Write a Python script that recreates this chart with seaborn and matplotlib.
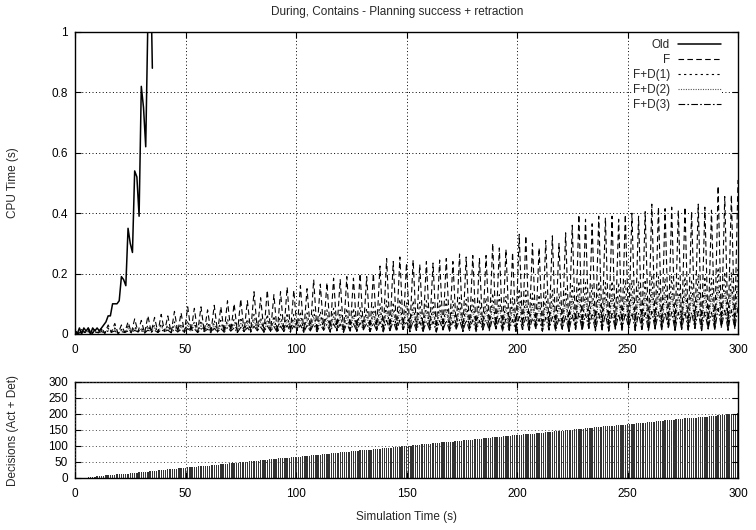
import numpy as np
import matplotlib
matplotlib.use("Agg")
import matplotlib.pyplot as plt
import seaborn as sns

# ---------------- data ----------------
old_t = list(range(0, 36))
old_v = [0.01, 0.0, 0.02, 0.0, 0.02, 0.01, 0.02, 0.0, 0.02, 0.01, 0.02, 0.01,
         0.02, 0.03, 0.04, 0.06, 0.06, 0.10, 0.10, 0.10, 0.11, 0.19, 0.18, 0.16,
         0.35, 0.30, 0.27, 0.54, 0.52, 0.39, 0.82, 0.75, 0.62, 1.05, 1.30, 0.88]

# peaks (t = 0, 3, ..., 300) of the oscillating series
f_peak = [0.01, 0.015, 0.02, 0.015, 0.02, 0.03, 0.035, 0.03, 0.04, 0.05, 0.045,
          0.06, 0.055, 0.065, 0.06, 0.075, 0.07, 0.09, 0.085, 0.09, 0.08,
          0.095, 0.09, 0.11, 0.10, 0.115, 0.11, 0.14, 0.12, 0.145, 0.13,
          0.14, 0.155, 0.145, 0.16, 0.15, 0.18, 0.165, 0.17, 0.185, 0.18,
          0.19, 0.185, 0.20, 0.19, 0.20, 0.225, 0.25, 0.24, 0.255, 0.235,
          0.245, 0.23, 0.24, 0.235, 0.245, 0.25, 0.24, 0.265, 0.255, 0.26,
          0.25, 0.26, 0.30, 0.285, 0.28, 0.27, 0.33, 0.325, 0.30, 0.285,
          0.31, 0.325, 0.30, 0.335, 0.36, 0.395, 0.38, 0.365, 0.39, 0.385,
          0.39, 0.38, 0.395, 0.40, 0.39, 0.405, 0.43, 0.42, 0.415, 0.42,
          0.41, 0.42, 0.405, 0.43, 0.42, 0.41, 0.49, 0.455, 0.46, 0.51]
d1_peak = [0.01, 0.01, 0.015, 0.01, 0.015, 0.02, 0.02, 0.015, 0.025, 0.025, 0.02,
           0.03, 0.03, 0.035, 0.03, 0.04, 0.035, 0.045, 0.04, 0.045, 0.04,
           0.045, 0.045, 0.05, 0.05, 0.055, 0.05, 0.065, 0.055, 0.065, 0.06,
           0.065, 0.07, 0.065, 0.075, 0.07, 0.08, 0.075, 0.08, 0.085, 0.08,
           0.085, 0.085, 0.09, 0.085, 0.09, 0.10, 0.11, 0.105, 0.115, 0.105,
           0.11, 0.105, 0.11, 0.105, 0.11, 0.115, 0.11, 0.12, 0.115, 0.12,
           0.115, 0.12, 0.135, 0.13, 0.125, 0.12, 0.15, 0.145, 0.135, 0.13,
           0.14, 0.145, 0.135, 0.15, 0.16, 0.175, 0.17, 0.165, 0.175, 0.17,
           0.175, 0.17, 0.18, 0.18, 0.175, 0.18, 0.195, 0.19, 0.185, 0.19,
           0.185, 0.19, 0.18, 0.195, 0.19, 0.185, 0.22, 0.205, 0.205, 0.225]
d2_peak = [0.008, 0.01, 0.012, 0.01, 0.012, 0.015, 0.015, 0.012, 0.018, 0.02, 0.018,
           0.022, 0.02, 0.025, 0.022, 0.028, 0.025, 0.03, 0.028, 0.03, 0.027,
           0.032, 0.03, 0.036, 0.033, 0.038, 0.036, 0.045, 0.04, 0.046, 0.042,
           0.045, 0.05, 0.047, 0.052, 0.049, 0.057, 0.053, 0.055, 0.06, 0.058,
           0.061, 0.06, 0.065, 0.062, 0.065, 0.072, 0.08, 0.077, 0.082, 0.076,
           0.079, 0.074, 0.077, 0.076, 0.079, 0.08, 0.077, 0.085, 0.082, 0.084,
           0.08, 0.084, 0.096, 0.092, 0.09, 0.087, 0.105, 0.104, 0.096, 0.092,
           0.1, 0.104, 0.096, 0.107, 0.115, 0.126, 0.122, 0.117, 0.125, 0.123,
           0.125, 0.122, 0.127, 0.128, 0.125, 0.13, 0.138, 0.135, 0.133, 0.135,
           0.132, 0.135, 0.13, 0.138, 0.135, 0.132, 0.157, 0.146, 0.148, 0.163]
d3_peak = [0.005, 0.006, 0.008, 0.006, 0.008, 0.01, 0.01, 0.008, 0.01, 0.012, 0.011,
           0.013, 0.012, 0.014, 0.013, 0.016, 0.015, 0.018, 0.017, 0.018, 0.016,
           0.019, 0.018, 0.021, 0.02, 0.022, 0.021, 0.026, 0.023, 0.027, 0.025,
           0.026, 0.029, 0.027, 0.03, 0.028, 0.033, 0.031, 0.032, 0.034, 0.033,
           0.035, 0.034, 0.037, 0.035, 0.037, 0.041, 0.045, 0.043, 0.046, 0.042,
           0.044, 0.041, 0.043, 0.042, 0.044, 0.045, 0.043, 0.047, 0.046, 0.047,
           0.045, 0.047, 0.053, 0.051, 0.05, 0.048, 0.058, 0.057, 0.053, 0.051,
           0.055, 0.057, 0.053, 0.059, 0.063, 0.069, 0.067, 0.064, 0.068, 0.067,
           0.068, 0.067, 0.069, 0.07, 0.068, 0.071, 0.075, 0.073, 0.072, 0.073,
           0.072, 0.073, 0.071, 0.075, 0.073, 0.072, 0.085, 0.079, 0.08, 0.088]
# troughs (t = 1.5, 4.5, ..., 298.5)
trough = [0.002, 0.005, 0.001, 0.004, 0.003, 0.006, 0.002, 0.005, 0.004, 0.007,
          0.003, 0.006, 0.005, 0.008, 0.004, 0.007, 0.006, 0.009, 0.005, 0.008,
          0.004, 0.007, 0.006, 0.01, 0.005, 0.008, 0.007, 0.011, 0.006, 0.009,
          0.005, 0.008, 0.007, 0.012, 0.006, 0.01, 0.008, 0.013, 0.007, 0.011,
          0.006, 0.01, 0.009, 0.014, 0.008, 0.012, 0.007, 0.011, 0.01, 0.015,
          0.008, 0.012, 0.009, 0.014, 0.007, 0.013, 0.01, 0.016, 0.009, 0.012,
          0.008, 0.014, 0.011, 0.017, 0.01, 0.013, 0.009, 0.015, 0.012, 0.018,
          0.01, 0.014, 0.011, 0.016, 0.009, 0.015, 0.012, 0.019, 0.011, 0.014,
          0.01, 0.016, 0.013, 0.02, 0.012, 0.015, 0.011, 0.017, 0.014, 0.021,
          0.012, 0.016, 0.013, 0.019, 0.011, 0.017, 0.014, 0.022, 0.013, 0.018]

dec_v = [0, 0, 0, 1, 1, 2, 3, 3, 4, 5, 5, 6, 7, 8, 8, 9, 10, 10, 11, 12, 12, 13, 14, 14, 15,
         16, 16, 17, 18, 18, 19, 20, 20, 21, 22, 22, 23, 24, 25, 25, 26, 27, 27, 28, 29, 29, 30, 31, 31, 32,
         33, 33, 34, 35, 35, 36, 37, 37, 38, 39, 39, 40, 41, 42, 42, 43, 44, 44, 45, 46, 46, 47, 48, 48, 49,
         50, 50, 51, 52, 52, 53, 54, 54, 55, 56, 56, 57, 58, 59, 59, 60, 61, 61, 62, 63, 63, 64, 65, 65, 66,
         67, 67, 68, 69, 69, 70, 71, 71, 72, 73, 73, 74, 75, 76, 76, 77, 78, 78, 79, 80, 80, 81, 82, 82, 83,
         84, 84, 85, 86, 86, 87, 88, 88, 89, 90, 90, 91, 92, 93, 93, 94, 95, 95, 96, 97, 97, 98, 99, 99, 100,
         101, 101, 102, 103, 103, 104, 105, 105, 106, 107, 107, 108, 109, 110, 110, 111, 112, 112, 113, 114, 114, 115, 116, 116, 117,
         118, 118, 119, 120, 120, 121, 122, 122, 123, 124, 124, 125, 126, 127, 127, 128, 129, 129, 130, 131, 131, 132, 133, 133, 134,
         135, 135, 136, 137, 137, 138, 139, 139, 140, 141, 141, 142, 143, 144, 144, 145, 146, 146, 147, 148, 148, 149, 150, 150, 151,
         152, 152, 153, 154, 154, 155, 156, 156, 157, 158, 158, 159, 160, 161, 161, 162, 163, 163, 164, 165, 165, 166, 167, 167, 168,
         169, 169, 170, 171, 171, 172, 173, 173, 174, 175, 175, 176, 177, 178, 178, 179, 180, 180, 181, 182, 182, 183, 184, 184, 185,
         186, 186, 187, 188, 188, 189, 190, 190, 191, 192, 192, 193, 194, 195, 195, 196, 197, 197, 198, 199, 199, 200, 201, 201, 202]
dec_t = list(range(1, 301))

labels = ["Old", "F", "F+D(1)", "F+D(2)", "F+D(3)"]
x_ticks = [0, 50, 100, 150, 200, 250, 300]
y1_ticks = [0, 0.2, 0.4, 0.6, 0.8, 1]
y1_ticklabels = ["0", "0.2", "0.4", "0.6", "0.8", "1"]
y2_ticks = [0, 50, 100, 150, 200, 250, 300]

# ---------------- style ----------------
sns.set_theme(style="ticks")
plt.rcParams["font.family"] = ["Liberation Sans", "DejaVu Sans"]
plt.rcParams["axes.edgecolor"] = "black"
plt.rcParams["axes.linewidth"] = 1.0

W, H = 756, 530
fig = plt.figure(figsize=(W / 100, H / 100), dpi=100)
L, R = 75, 738
ax1 = fig.add_axes([L / W, (H - 334) / H, (R - L) / W, (334 - 32) / H])
ax2 = fig.add_axes([L / W, (H - 478) / H, (R - L) / W, (478 - 382) / H])


def interleave(peaks, troughs):
    y = np.empty(len(peaks) + len(troughs))
    y[0::2] = peaks
    y[1::2] = troughs
    return y


osc_t = np.arange(len(f_peak) + len(trough)) * 1.5

styles = [
    dict(linestyle="-", linewidth=1.1, color="black"),
    dict(linestyle=(0, (5, 3)), linewidth=0.8, color="black"),
    dict(linestyle=(0, (2, 3)), linewidth=0.8, color="black"),
    dict(linestyle=(0, (1, 1.2)), linewidth=0.8, color="#555555"),
    dict(linestyle=(0, (6, 2, 1.5, 2)), linewidth=0.8, color="black"),
]

sns.lineplot(x=old_t, y=old_v, ax=ax1, label=labels[0], sort=False,
             estimator=None, errorbar=None, zorder=6, **styles[0])
for lab, pk, st, z in zip(labels[1:], [f_peak, d1_peak, d2_peak, d3_peak], styles[1:], [5, 4, 3, 2]):
    sns.lineplot(x=osc_t, y=interleave(pk, trough), ax=ax1, label=lab, sort=False,
                 estimator=None, errorbar=None, zorder=z, **st)

ax1.set_xlim(0, 300)
ax1.set_ylim(0, 1)
ax1.set_xticks(x_ticks)
ax1.set_xticklabels([str(v) for v in x_ticks])
ax1.set_yticks(y1_ticks)
ax1.set_yticklabels(y1_ticklabels)
ax1.set_ylabel("CPU Time (s)", fontsize=8.5)
ax1.yaxis.set_label_coords(-0.085, 0.5)
ax1.set_xlabel("")
ax1.grid(True, color="black", linestyle=(0, (1, 2.5)), linewidth=0.7)

leg = ax1.legend(loc="upper right", bbox_to_anchor=((722 - L) / (R - L), (334 - 38) / 302),
                 borderaxespad=0, frameon=True, markerfirst=False, fontsize=8.5,
                 handlelength=3.6, handletextpad=0.7, labelspacing=0.25, borderpad=0.1,
                 facecolor="white", edgecolor="none", framealpha=1, fancybox=False)
leg.set_zorder(10)

# bottom panel
sns.barplot(x=dec_t, y=dec_v, ax=ax2, native_scale=True, width=0.6, color="#333333",
            linewidth=0, errorbar=None, saturation=1)
ax2.set_xlim(0, 300)
ax2.set_ylim(0, 300)
ax2.set_xticks(x_ticks)
ax2.set_xticklabels([str(v) for v in x_ticks])
ax2.set_yticks(y2_ticks)
ax2.set_yticklabels([str(v) for v in y2_ticks])
ax2.grid(True, color="#444444", linestyle=(0, (1, 2.5)), linewidth=0.7)
ax2.set_axisbelow(False)
ax2.set_ylabel("Decisions (Act + Det)", fontsize=8.5)
ax2.yaxis.set_label_coords(-0.085, 0.5)
ax2.set_xlabel("Simulation Time (s)", fontsize=8.5)
ax2.xaxis.set_label_coords(0.5, -0.34)

for ax in (ax1, ax2):
    ax.tick_params(direction="in", top=True, right=True, length=4, width=0.8,
                   labelsize=8.5, colors="black", pad=5)
    ax.tick_params(axis="x", pad=7)
    for s in ax.spines.values():
        s.set_color("black")
        s.set_linewidth(1.0)

fig.text(397 / W, 1 - 12 / H, "During, Contains - Planning success + retraction",
         ha="center", va="center", fontsize=8.5)

fig.savefig("out.png", dpi=100)
